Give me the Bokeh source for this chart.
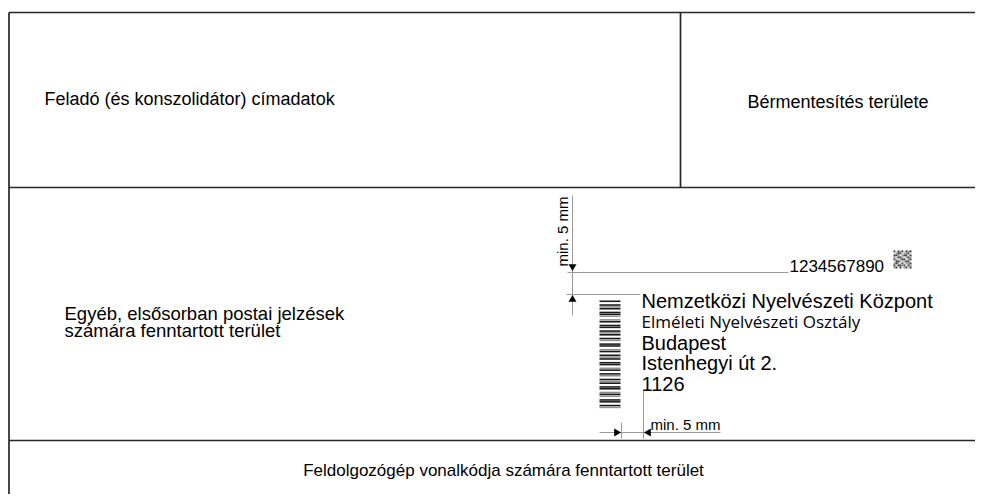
import math
from bokeh.plotting import figure
from bokeh.models import Range1d
from bokeh.core.properties import value
from bokeh.embed import file_html
from bokeh.resources import INLINE

# ---- content (texts) ----
sender_label = ["Feladó (és konszolidátor) címadatok"]
franking_label = ["Bérmentesítés területe"]
other_label = ["Egyéb, elsősorban postai jelzések", "számára fenntartott terület"]
machine_label = ["Feldolgozógép vonalkódja számára fenntartott terület"]
address_lines = ["Nemzetközi Nyelvészeti Központ", "Elméleti Nyelvészeti Osztály",
                 "Budapest", "Istenhegyi út 2.", "1126"]
address_fonts = ["Liberation Sans", "Open Sans", "Liberation Sans", "Liberation Sans", "Liberation Sans"]
id_number = ["1234567890"]
min_label = ["min. 5 mm"]

# ---- layout (screen pixel coordinates) ----
frame_left = 8.5
frame_right = 990
zone_y = [12, 187, 440]          # horizontal separators
franking_x = 680                 # vertical separator in top zone

# barcode modules (0 white, 1 grey, 2 black), read top to bottom
barcode_pattern = "2021202210120220212021022012021202201202102120220121022021"
# 9x9 QR-like pattern (0 light, 1 grey, 2 dark)
qr_pattern = ["202120212",
              "012201120",
              "221012202",
              "102210121",
              "210122012",
              "022101220",
              "121020112",
              "202212021",
              "120201202"]

W, H = 975, 494
p = figure(width=W, height=H, output_backend="svg", toolbar_location=None,
           x_range=Range1d(0, W), y_range=Range1d(H, 0),
           min_border=0, outline_line_color=None)
p.axis.visible = False
p.grid.visible = False
p.background_fill_color = "white"
p.border_fill_color = "white"

dark = "#262626"
grey = "#9a9a9a"

# frame
p.segment(x0=[frame_left], y0=[zone_y[0]], x1=[frame_left], y1=[H + 10], line_color=dark, line_width=1.7)
p.segment(x0=[frame_left] * 3, y0=zone_y, x1=[frame_right] * 3, y1=zone_y, line_color=dark, line_width=1.7)
p.segment(x0=[franking_x], y0=[zone_y[0]], x1=[franking_x], y1=[zone_y[1]], line_color=dark, line_width=1.7)

sans = value("Liberation Sans")
p.text(x=[44], y=[98], text=sender_label, text_font=sans, text_font_size="18px",
       text_baseline="middle", text_color="black")
p.text(x=[747], y=[101], text=franking_label, text_font=sans, text_font_size="18px",
       text_baseline="middle", text_color="black")
p.text(x=[64, 64], y=[313, 330], text=other_label, text_font=sans, text_font_size="18.5px",
       text_baseline="middle", text_color="black")
p.text(x=[503], y=[470], text=machine_label, text_font=sans,
       text_font_size="17px", text_baseline="middle", text_align="center", text_color="black")

# address block
addr_y = [300, 321, 342, 362, 383]
for t, f, yy in zip(address_lines, address_fonts, addr_y):
    p.text(x=[641], y=[yy], text=[t], text_font=value(f),
           text_font_size="20px" if f == "Liberation Sans" else "17px",
           text_baseline="middle", text_color="black")

# id number + QR
p.text(x=[789], y=[265], text=id_number, text_font=sans, text_font_size="17px",
       text_baseline="middle", text_color="black")
shade = {"0": "#e6e6e6", "1": "#9c9c9c", "2": "#3a3a3a"}
qx, qy, qs = 893, 250, 2
ql, qr_, qt, qb, qc = [], [], [], [], []
for r, row in enumerate(qr_pattern):
    for c, ch in enumerate(row):
        ql.append(qx + c * qs); qr_.append(qx + (c + 1) * qs)
        qt.append(qy + r * qs); qb.append(qy + (r + 1) * qs)
        qc.append(shade[ch])
p.quad(left=ql, right=qr_, top=qt, bottom=qb, fill_color=qc, line_color=None)

# barcode
bx0, bx1, by, bh = 599, 620, 300, 108 / len(barcode_pattern)
bl, br, bt, bb, bc = [], [], [], [], []
for i, ch in enumerate(barcode_pattern):
    if ch == "0":
        continue
    bl.append(bx0); br.append(bx1)
    bt.append(by + i * bh); bb.append(by + (i + 1) * bh - 0.3)
    bc.append("#1a1a1a" if ch == "2" else "#8f8f8f")
p.quad(left=bl, right=br, top=bt, bottom=bb, fill_color=bc, line_color=None)

# dimension lines (top marker)
p.segment(x0=[572, 567, 566], y0=[195, 272, 294], x1=[572, 788, 640], y1=[315, 272, 294],
          line_color=grey, line_width=1)
p.scatter(x=[572], y=[266], marker="triangle", angle=math.pi, size=8, fill_color="black", line_color=None)
p.scatter(x=[572], y=[299], marker="triangle", size=8, fill_color="black", line_color=None)
p.text(x=[562], y=[231], text=min_label, text_font=sans, text_font_size="15px",
       text_baseline="middle", text_align="center", angle=math.pi / 2, text_color="black")

# dimension lines (bottom marker)
p.segment(x0=[599, 621, 643], y0=[432, 422, 390], x1=[720, 621, 643], y1=[432, 438, 438],
          line_color=grey, line_width=1)
p.scatter(x=[616], y=[432], marker="triangle", angle=-math.pi / 2, size=8, fill_color="black", line_color=None)
p.scatter(x=[648], y=[432], marker="triangle", angle=math.pi / 2, size=8, fill_color="black", line_color=None)
p.text(x=[650], y=[424], text=min_label, text_font=sans, text_font_size="15px",
       text_baseline="middle", text_color="black")

open("out.html", "w").write(file_html(p, INLINE))
